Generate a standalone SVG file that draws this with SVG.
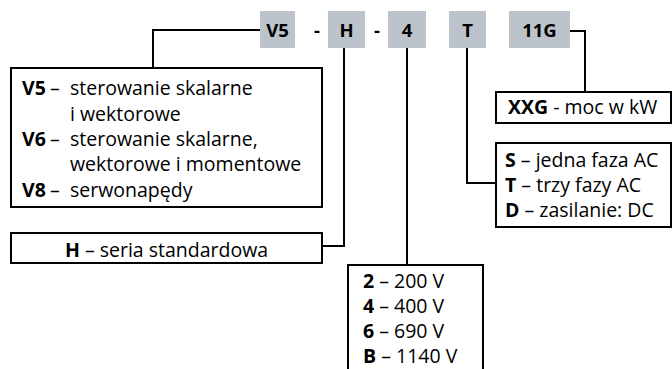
<svg xmlns="http://www.w3.org/2000/svg" width="672" height="369" viewBox="0 0 672 369">
<style>
text{font-family:"Open Sans","Noto Sans","DejaVu Sans",sans-serif;font-size:19.5px;fill:#000}
.b{font-weight:bold}
.code{fill:#bcc3ca}
.ct{font-weight:bold;font-size:18.5px;text-anchor:middle}
.box{fill:#fff;stroke:#000;stroke-width:2}
.conn{fill:none;stroke:#000;stroke-width:2}
</style>
<rect width="672" height="369" fill="#fff"/>
<g id="connectors">
<path class="conn" d="M260,30 H153 V68"/>
<path class="conn" d="M344,48 V246 H322"/>
<path class="conn" d="M407,48 V265"/>
<path class="conn" d="M467,48 V183 H496"/>
<path class="conn" d="M570,31 H585 V92"/>
</g>
<g id="code">
<rect class="code" x="260" y="11" width="35" height="37"/>
<text class="ct" x="277.5" y="37">V5</text>
<text class="ct" x="317" y="37">-</text>
<rect class="code" x="328" y="11" width="37" height="37"/>
<text class="ct" x="346.5" y="37">H</text>
<text class="ct" x="377" y="37">-</text>
<rect class="code" x="388" y="11" width="38" height="37"/>
<text class="ct" x="407" y="37">4</text>
<rect class="code" x="449" y="11" width="37" height="37"/>
<text class="ct" x="467.5" y="37">T</text>
<rect class="code" x="509" y="11" width="61" height="37"/>
<text class="ct" x="539.5" y="37">11G</text>
</g>
<g id="control">
<rect class="box" x="11" y="68" width="311" height="139"/>
<text x="22" y="95"><tspan class="b">V5</tspan><tspan x="50">–</tspan><tspan x="70">sterowanie skalarne</tspan></text>
<text x="70" y="120.5">i wektorowe</text>
<text x="22" y="146"><tspan class="b">V6</tspan><tspan x="50">–</tspan><tspan x="70">sterowanie skalarne,</tspan></text>
<text x="70" y="171">wektorowe i momentowe</text>
<text x="22" y="196.5"><tspan class="b">V8</tspan><tspan x="50">–</tspan><tspan x="70">serwonapędy</tspan></text>
</g>
<g id="series">
<rect class="box" x="11" y="233" width="311" height="30"/>
<text x="166.5" y="257" text-anchor="middle"><tspan class="b">H</tspan> – seria standardowa</text>
</g>
<g id="voltage">
<rect class="box" x="348" y="265" width="135" height="115"/>
<text x="363" y="288"><tspan class="b">2</tspan> – 200 V</text>
<text x="363" y="313"><tspan class="b">4</tspan> – 400 V</text>
<text x="363" y="338"><tspan class="b">6</tspan> – 690 V</text>
<text x="363" y="363"><tspan class="b">B</tspan> – 1140 V</text>
</g>
<g id="power">
<rect class="box" x="496" y="92" width="175" height="31"/>
<text x="508" y="114"><tspan class="b">XXG</tspan> - moc w kW</text>
</g>
<g id="supply">
<rect class="box" x="496" y="143" width="175" height="84"/>
<text x="505" y="167"><tspan class="b">S</tspan> – jedna faza AC</text>
<text x="505" y="192"><tspan class="b">T</tspan> – trzy fazy AC</text>
<text x="505" y="217"><tspan class="b">D</tspan> – zasilanie: DC</text>
</g>
</svg>
